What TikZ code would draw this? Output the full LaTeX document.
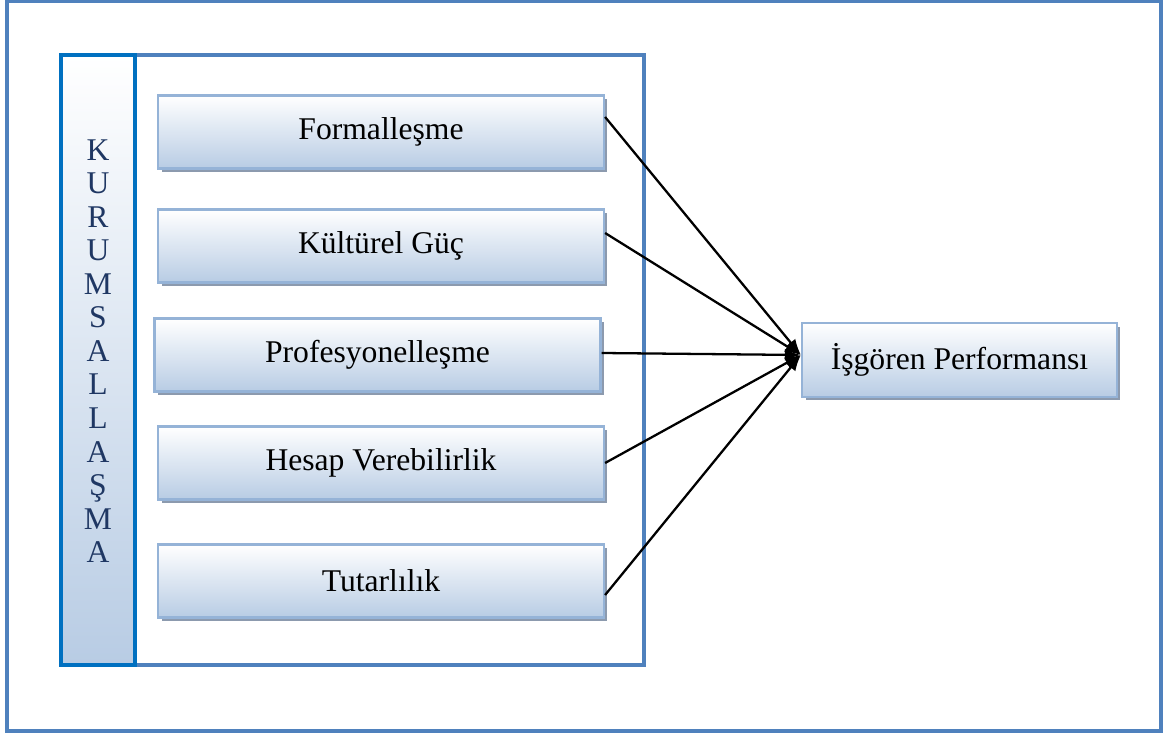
\documentclass[tikz,border=0pt]{standalone}
\usepackage{fontspec}
\setmainfont{Liberation Serif}
\usetikzlibrary{arrows.meta,shadows}

\definecolor{cizgi}{HTML}{4F81BD}
\definecolor{kolonkenar}{HTML}{0070C0}
\definecolor{kutukenar}{HTML}{95B3D7}
\definecolor{kutualt}{HTML}{B8CCE4}
\definecolor{golge}{HTML}{8C9AAE}
\definecolor{harf}{HTML}{1F3763}

\begin{document}
\begin{tikzpicture}
   [
    x=0.02cm, y=-0.02cm,
    every node/.style={inner sep=0pt, font=\fontsize{18}{21}\selectfont},
    kutu/.style={rectangle, minimum width=8.92cm, minimum height=1.46cm,
                 top color=white, bottom color=kutualt,
                 draw=kutukenar, line width=1.3pt,
                 general shadow={fill=golge, shadow xshift=0.07cm,
                                 shadow yshift=-0.07cm}},
    kolon/.style={rectangle, minimum width=1.48cm, minimum height=12.2cm,
                  top color=white, bottom color=kutualt,
                  draw=kolonkenar, line width=2.5pt},
    ok/.style={line width=1.3pt, -{Latex[length=0.32cm,width=0.24cm]}}
   ]

\useasboundingbox (0,0) rectangle (1171,736);

% dis cerceve ve ic kutu
\draw[cizgi, line width=2pt] (7,1) rectangle (1161,731);
\draw[cizgi, line width=2pt] (61,55) rectangle (644,665);

% sol kolon
\node[kolon] (kolon) at (98,360) {};
\node[text=harf, align=center, font=\fontsize{18}{19.1}\selectfont]
     (harfler) at (98,351)
     {K\\U\\R\\U\\M\\S\\A\\L\\L\\A\\Ş\\M\\A};

% boyutlar
\node[kutu] (f1) at (381,132)   {Formalleşme};
\node[kutu] (f2) at (381,246)   {Kültürel Güç};
\node[kutu] (f3) at (377.5,355) {Profesyonelleşme};
\node[kutu] (f4) at (381,463)   {Hesap Verebilirlik};
\node[kutu] (f5) at (381,581)   {Tutarlılık};

% sonuc
\node[kutu, minimum width=6.3cm, minimum height=1.48cm]
     (hedef) at (959.5,360) {İşgören Performansı};

% oklar
\draw[ok] ([yshift=0.3cm]f1.east)   -- ([yshift=0.1cm]hedef.west);
\draw[ok] ([yshift=0.26cm]f2.east)  -- ([yshift=0.1cm]hedef.west);
\draw[ok] ([yshift=0.04cm]f3.east)  -- ([yshift=0.1cm]hedef.west);
\draw[ok] (f4.east)                 -- ([yshift=0.1cm]hedef.west);
\draw[ok] ([yshift=-0.28cm]f5.east) -- ([yshift=0.1cm]hedef.west);

\end{tikzpicture}
\end{document}
